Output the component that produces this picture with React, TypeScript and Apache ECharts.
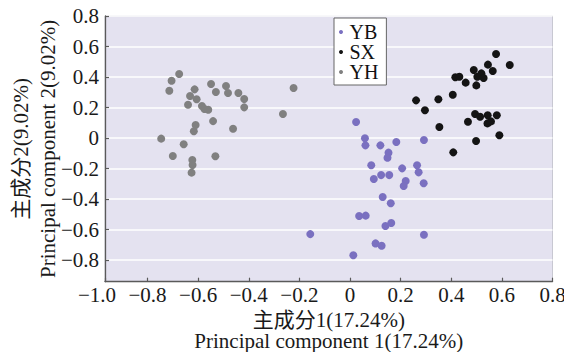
import React, { useEffect, useRef } from "react";
import * as echarts from "echarts";

const seriesNames = ["YB", "SX", "YH"];

const ybX = [0.024, 0.059, 0.061, 0.12, 0.183, 0.292, 0.152, 0.148, 0.084, 0.206, 0.265, 0.271, 0.123, 0.094, 0.155, 0.22, 0.212, 0.291, 0.129, 0.161, 0.036, 0.062, 0.163, 0.14, -0.157, 0.292, 0.101, 0.125, 0.013];
const ybY = [0.105, -0.002, -0.048, -0.048, -0.026, -0.013, -0.096, -0.129, -0.179, -0.199, -0.179, -0.225, -0.243, -0.269, -0.243, -0.282, -0.315, -0.297, -0.387, -0.428, -0.511, -0.509, -0.557, -0.577, -0.63, -0.634, -0.691, -0.706, -0.769];

const sxX = [0.577, 0.631, 0.545, 0.489, 0.564, 0.519, 0.503, 0.528, 0.416, 0.432, 0.457, 0.499, 0.406, 0.349, 0.261, 0.296, 0.494, 0.514, 0.544, 0.58, 0.466, 0.543, 0.557, 0.353, 0.59, 0.498, 0.408];
const sxY = [0.551, 0.479, 0.481, 0.446, 0.439, 0.424, 0.402, 0.393, 0.398, 0.402, 0.363, 0.345, 0.284, 0.254, 0.247, 0.182, 0.157, 0.14, 0.149, 0.149, 0.107, 0.096, 0.109, 0.072, 0.018, -0.02, -0.094];

const yhX = [-0.675, -0.705, -0.714, -0.614, -0.549, -0.49, -0.53, -0.482, -0.441, -0.418, -0.418, -0.223, -0.265, -0.632, -0.606, -0.64, -0.585, -0.575, -0.56, -0.541, -0.61, -0.617, -0.462, -0.746, -0.657, -0.7, -0.532, -0.623, -0.622, -0.626];
const yhY = [0.42, 0.376, 0.31, 0.319, 0.354, 0.341, 0.302, 0.295, 0.295, 0.256, 0.201, 0.328, 0.157, 0.275, 0.254, 0.218, 0.21, 0.19, 0.185, 0.111, 0.085, 0.044, 0.061, -0.004, -0.041, -0.118, -0.12, -0.144, -0.177, -0.227];

const xTitle = "主成分1(17.24%)\nPrincipal component 1(17.24%)";
const yTitle = "主成分2(9.02%)\nPrincipal component 2(9.02%)";
const xMinLabel = "−1.0";

const colors = ["#7a70c0", "#141414", "#808080"];
const FONT = "Liberation Serif, Noto Sans CJK SC, serif";
const NUM_FONT = "Liberation Serif";

const fmt = (v: number) => {
  if (Math.abs(v) < 1e-9) return "0";
  return v.toFixed(1).replace("-", "−");
};

const zip = (xs: number[], ys: number[]) => xs.map((x, i) => [x, ys[i]]);

export default function App() {
  const ref = useRef<HTMLDivElement>(null);
  useEffect(() => {
    if (!ref.current) return;
    const chart = echarts.init(ref.current, undefined, { renderer: "svg" });
    const axisLineColor = "#5a5a5a";
    const labelStyle = { fontFamily: NUM_FONT, fontSize: 21, fontWeight: "normal", fontStyle: "normal", color: "#1a1a1a" };
    chart.setOption({
      animation: false,
      backgroundColor: "#ffffff",
      textStyle: { fontFamily: FONT },
      grid: {
        left: 105,
        right: 11.5,
        top: 16,
        bottom: 70.3,
        show: true,
        backgroundColor: "#e4e2f0",
        borderColor: "#c8c8d2",
        borderWidth: 1,
        containLabel: false,
        outerBoundsMode: "none",
      },
      legend: {
        data: seriesNames,
        orient: "vertical",
        left: 334,
        top: 18,
        backgroundColor: "#ffffff",
        borderColor: "#666666",
        borderWidth: 1,
        borderRadius: 0,
        padding: [4, 8, 3, 5],
        itemGap: 0,
        itemWidth: 7,
        itemHeight: 4,
        icon: "circle",
        textStyle: { fontFamily: FONT, fontSize: 20, lineHeight: 19.5, color: "#111" },
      },
      xAxis: {
        type: "value",
        min: -0.968,
        max: 0.8,
        splitNumber: 9,
        name: xTitle,
        nameLocation: "middle",
        nameGap: 28,
        nameMoveOverlap: false,
        nameTextStyle: { fontFamily: FONT, fontSize: 21, lineHeight: 21, color: "#1a1a1a" },
        axisLine: { show: true, onZero: false, lineStyle: { color: axisLineColor, width: 1.3 } },
        axisTick: { show: true, inside: true, length: 4, lineStyle: { color: axisLineColor, width: 1.2 } },
        splitLine: { show: false },
        axisLabel: {
          ...labelStyle,
          showMinLabel: true,
          showMaxLabel: true,
          margin: 3,
          formatter: (v: number) => (v < -0.9 ? "{m|" + xMinLabel + "}" : "{n|" + fmt(v) + "}"),
          rich: {
            m: { ...labelStyle, padding: [0, 16, 0, 0] },
            n: { ...labelStyle },
          },
        },
      },
      yAxis: {
        type: "value",
        min: -0.942,
        max: 0.8,
        splitNumber: 9,
        name: yTitle,
        nameLocation: "middle",
        nameGap: 44,
        nameMoveOverlap: false,
        nameTextStyle: { fontFamily: FONT, fontSize: 21, lineHeight: 27, color: "#1a1a1a" },
        axisLine: { show: true, onZero: false, lineStyle: { color: axisLineColor, width: 1.3 } },
        axisTick: { show: true, inside: true, length: 4, lineStyle: { color: axisLineColor, width: 1.2 } },
        splitLine: { show: true, lineStyle: { color: "#ffffff", width: 1.5 } },
        axisLabel: {
          ...labelStyle,
          showMinLabel: false,
          showMaxLabel: true,
          margin: 6,
          formatter: (v: number) => "{n|" + fmt(v) + "}",
          rich: { n: { ...labelStyle } },
        },
      },
      series: [
        { name: seriesNames[0], type: "scatter", symbolSize: 8, itemStyle: { color: colors[0], opacity: 1 }, data: zip(ybX, ybY) },
        { name: seriesNames[1], type: "scatter", symbolSize: 8, itemStyle: { color: colors[1], opacity: 1 }, data: zip(sxX, sxY) },
        { name: seriesNames[2], type: "scatter", symbolSize: 8, itemStyle: { color: colors[2], opacity: 1 }, data: zip(yhX, yhY) },
      ],
    });
    return () => chart.dispose();
  }, []);
  return <div ref={ref} style={{ position: "fixed", left: 0, top: 0, width: 564, height: 352 }} />;
}
